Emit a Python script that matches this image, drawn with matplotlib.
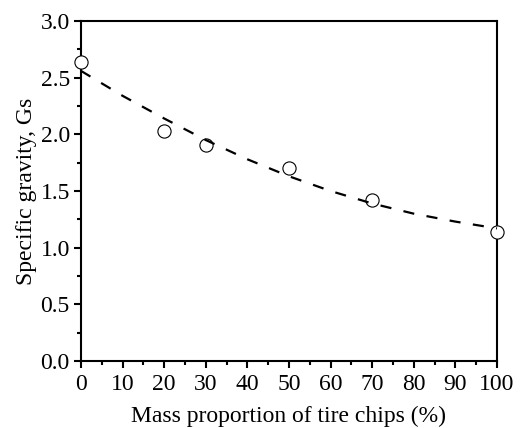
import numpy as np
import matplotlib.pyplot as plt
from matplotlib.ticker import MultipleLocator

# measured specific gravity vs tire chip content
tire_pct = [0, 20, 30, 50, 70, 100]
gs_measured = [2.64, 2.03, 1.91, 1.70, 1.42, 1.14]

# fitted trend (read at every 10 %)
fit_pct = [0, 10, 20, 30, 40, 50, 60, 70, 80, 90, 100]
gs_fit = [2.56, 2.34, 2.14, 1.95, 1.78, 1.63, 1.50, 1.39, 1.30, 1.23, 1.17]

plt.rcParams['font.family'] = ['Liberation Serif', 'DejaVu Serif']

fig = plt.figure(figsize=(5.22, 4.28), dpi=100)
ax = fig.add_axes([0.155, 0.1565, 0.797, 0.7945])

ax.plot(tire_pct, gs_measured, linestyle='none', marker='o', markersize=9.5,
        markerfacecolor='white', markeredgecolor='black', markeredgewidth=0.8,
        clip_on=False, zorder=3)
ax.plot(fit_pct, gs_fit, color='black', linewidth=1.6, linestyle=(0, (5, 5.6)),
        clip_on=False, zorder=4)

ax.set_xlim(0, 100)
ax.set_ylim(0, 3.0)
ax.xaxis.set_major_locator(MultipleLocator(10))
ax.xaxis.set_minor_locator(MultipleLocator(5))
ax.yaxis.set_major_locator(MultipleLocator(0.5))
ax.yaxis.set_minor_locator(MultipleLocator(0.25))
ax.yaxis.set_major_formatter(plt.FormatStrFormatter('%.1f'))

for s in ax.spines.values():
    s.set_linewidth(1.5)
ax.tick_params(which='both', direction='out', top=False, right=False,
               labelsize=17, width=1.5)
ax.tick_params(which='major', length=5)
ax.tick_params(axis='x', which='major', pad=4)
ax.tick_params(axis='y', which='major', pad=3)
ax.tick_params(which='minor', length=3)

ax.set_xlabel('Mass proportion of tire chips (%)', fontsize=17, labelpad=8)
ax.set_ylabel('Specific gravity, Gs', fontsize=17, labelpad=2.5)

fig.savefig('out.png', dpi=100)
